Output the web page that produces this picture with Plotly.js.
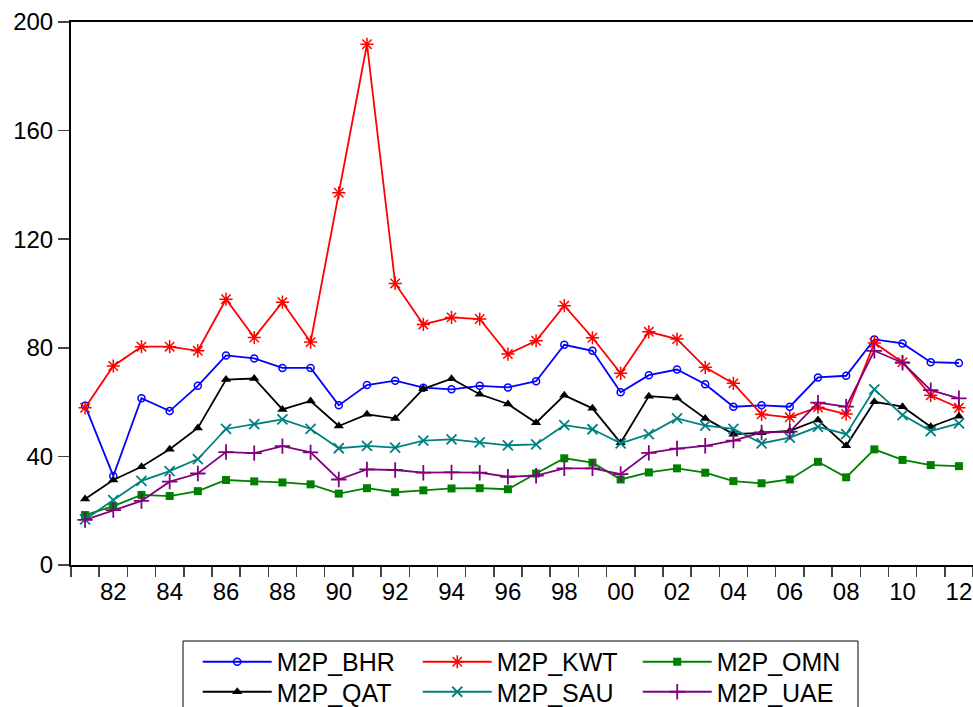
<!DOCTYPE html>
<html>
<head>
<meta charset="utf-8">
<script src="https://cdn.plot.ly/plotly-3.0.1.min.js"></script>
<style>html,body{margin:0;padding:0;background:#fff;}#chart{width:973px;height:707px;}</style>
</head>
<body>
<div id="chart"></div>
<script>
// Years 1981-2012
const years = [1981,1982,1983,1984,1985,1986,1987,1988,1989,1990,1991,1992,1993,1994,1995,1996,
               1997,1998,1999,2000,2001,2002,2003,2004,2005,2006,2007,2008,2009,2010,2011,2012];

const m2p_bhr = [58.7,32.8,61.4,56.7,66.0,77.2,76.1,72.6,72.6,58.8,66.3,67.9,65.3,64.7,66.0,65.4,
                 67.7,81.1,78.9,63.6,69.9,72.0,66.6,58.3,58.8,58.3,69.1,69.7,83.1,81.6,74.7,74.4];
const m2p_kwt = [57.9,73.3,80.4,80.4,78.9,97.9,83.8,96.8,82.1,137.1,191.8,103.7,88.6,91.2,90.6,77.7,
                 82.6,95.5,83.7,70.6,85.9,83.2,72.8,66.9,55.5,54.4,58.1,55.6,81.8,74.7,62.5,57.9];
const m2p_omn = [18.4,21.7,25.8,25.4,27.2,31.3,30.8,30.4,29.7,26.3,28.3,26.8,27.5,28.2,28.3,27.9,
                 33.7,39.3,37.7,31.5,34.1,35.6,34.0,30.9,30.1,31.5,38.0,32.3,42.6,38.7,36.8,36.4];
const m2p_qat = [24.3,31.3,36.2,42.6,50.5,68.3,68.7,57.3,60.4,51.2,55.5,54.0,64.9,68.6,62.9,59.3,
                 52.4,62.5,57.7,45.0,62.2,61.5,54.0,48.2,48.7,49.4,53.4,43.9,60.1,58.3,50.9,54.8];
const m2p_sau = [16.8,23.9,31.0,34.6,39.0,50.1,51.9,53.6,50.1,43.0,43.9,43.2,45.8,46.3,45.2,44.1,
                 44.4,51.5,50.0,44.8,48.2,54.0,51.3,50.1,44.8,46.9,50.9,48.2,64.7,55.2,49.3,52.2];
const m2p_uae = [16.6,20.2,23.6,30.7,33.7,41.6,41.2,43.8,41.5,31.5,35.2,35.0,34.0,34.1,34.0,32.5,
                 32.9,35.6,35.6,33.5,41.3,42.9,43.9,45.8,48.8,49.1,59.8,58.3,78.9,74.5,64.4,61.4];

const seriesNames = ["M2P_BHR","M2P_KWT","M2P_OMN","M2P_QAT","M2P_SAU","M2P_UAE"];
const tickYears = [1982,1984,1986,1988,1990,1992,1994,1996,1998,2000,2002,2004,2006,2008,2010,2012];
const tickLabels = ["82","84","86","88","90","92","94","96","98","00","02","04","06","08","10","12"];
const yTicks = [0,40,80,120,160,200];

const FONT = "Liberation Sans, Arial, sans-serif";

function tr(name, y, color, symbol, size, lw, leg) {
  return {
    x: years, y: y, name: name, type: "scatter", mode: "lines+markers",
    legend: leg,
    line: {color: color, width: 1.8},
    marker: {symbol: symbol, size: size, color: color, line: {color: color, width: lw}}
  };
}

const data = [
  tr(seriesNames[0], m2p_bhr, "#0000FF", "circle-open", 7, 1.5, "legend"),
  tr(seriesNames[1], m2p_kwt, "#FF0000", "asterisk-open", 11, 1.5, "legend"),
  tr(seriesNames[2], m2p_omn, "#008000", "square", 8, 0, "legend"),
  tr(seriesNames[3], m2p_qat, "#000000", "triangle-up", 9, 0, "legend2"),
  tr(seriesNames[4], m2p_sau, "#008080", "x-thin-open", 10, 1.8, "legend2"),
  tr(seriesNames[5], m2p_uae, "#800080", "cross-thin-open", 11, 1.8, "legend2")
];

const halfYears = years.map(v => v - 0.5).concat([years[years.length-1] + 0.5]);

function legendRow(yPos) {
  return {
    orientation: "h",
    x: 0.1405, xanchor: "left",
    y: yPos, yanchor: "middle",
    borderwidth: 0,
    bgcolor: "rgba(0,0,0,0)",
    font: {family: FONT, size: 25, color: "#000"},
    entrywidth: 136, entrywidthmode: "pixels",
    itemwidth: 69
  };
}

const layout = {
  width: 973, height: 707,
  margin: {l: 71, r: 0, t: 22, b: 142, autoexpand: false},
  paper_bgcolor: "#fff", plot_bgcolor: "#fff",
  font: {family: FONT, size: 24, color: "#000"},
  showlegend: true,
  xaxis: {
    range: [1980.5, 2012.5],
    tickmode: "array", tickvals: tickYears, ticktext: tickLabels,
    ticks: "", showgrid: false, zeroline: false,
    showline: true, linecolor: "#000", linewidth: 2, mirror: true,
    ticklabelstandoff: 4,
    tickfont: {family: FONT, size: 24, color: "#000"},
    minor: {tickmode: "array", tickvals: halfYears, ticks: "outside", ticklen: 10, tickwidth: 1.5, tickcolor: "#444", showgrid: false}
  },
  yaxis: {
    range: [0, 200],
    tickmode: "array", tickvals: yTicks,
    ticks: "outside", ticklen: 11, tickwidth: 1.5, tickcolor: "#444",
    showgrid: false, zeroline: false,
    showline: true, linecolor: "#000", linewidth: 2,
    ticklabelstandoff: 0,
    tickfont: {family: FONT, size: 24, color: "#000"}
  },
  legend: legendRow(-0.1786),
  legend2: legendRow(-0.2339),
  shapes: [{
    type: "rect", xref: "paper", yref: "paper",
    x0: 0.1242, x1: 0.8725, y0: -0.14, y1: -0.30,
    line: {color: "#000", width: 1}, fillcolor: "rgba(0,0,0,0)", layer: "below"
  }]
};

Plotly.newPlot("chart", data, layout, {displayModeBar: false, staticPlot: true});
</script>
</body>
</html>
